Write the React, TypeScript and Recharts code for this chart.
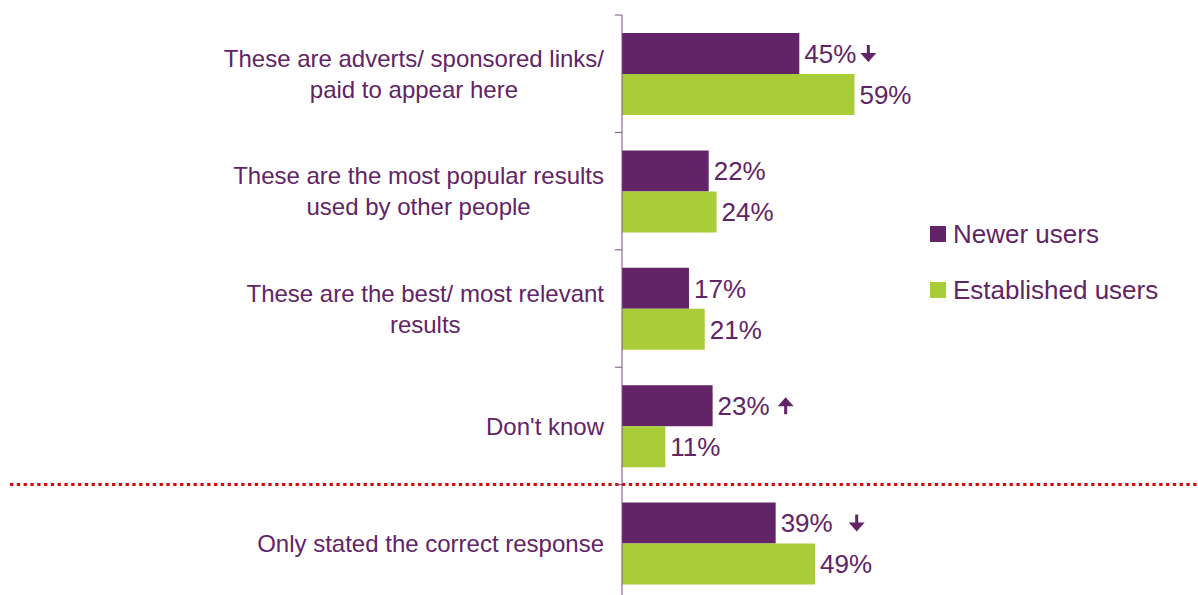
import React from "react";
import {
  BarChart,
  Bar,
  XAxis,
  YAxis,
  Legend,
  LabelList,
  ReferenceLine,
} from "recharts";

const categories = [
  "These are adverts/ sponsored links/ paid to appear here",
  "These are the most popular results used by other people",
  "These are the best/ most relevant results",
  "Don't know",
  "Only stated the correct response",
];
const newerUsers = [45, 22, 17, 23, 39];
const establishedUsers = [59, 24, 21, 11, 49];
// significance arrows shown next to the newer users' values
const newerArrows: Array<"up" | "down" | null> = ["down", null, null, "up", "down"];
const seriesNames = ["Newer users", "Established users"];

const PURPLE = "#622466";
const GREEN = "#a9cd38";
const TEXT = "#612466";
const AXIS = "#7d4b82";
const FONT = "'Liberation Sans', Arial, sans-serif";

const data = categories.map((category, i) => ({
  category,
  newer: newerUsers[i],
  established: establishedUsers[i],
}));

let ctx: CanvasRenderingContext2D | null = null;
function textWidth(t: string, size: number) {
  if (!ctx && typeof document !== "undefined") {
    ctx = document.createElement("canvas").getContext("2d");
  }
  if (!ctx) return t.length * size * 0.5;
  ctx.font = `${size}px 'Liberation Sans', Arial, sans-serif`;
  return ctx.measureText(t).width;
}

function wrap(text: string, size: number, maxWidth: number) {
  const words = text.split(" ");
  const lines: string[] = [];
  let cur = "";
  for (const w of words) {
    const next = cur ? cur + " " + w : w;
    if (cur && textWidth(next, size) > maxWidth) {
      lines.push(cur);
      cur = w;
    } else {
      cur = next;
    }
  }
  if (cur) lines.push(cur);
  return lines;
}

const CategoryTick = (props: any) => {
  const { y, payload } = props;
  const half = payload?.offset ?? 58.7;
  const size = 24;
  const lines = wrap(String(payload.value), size, 400);
  const maxW = Math.max(...lines.map((l) => textWidth(l, size)));
  const cx = 604 - maxW / 2;
  const lh = 31;
  const startY = y - ((lines.length - 1) * lh) / 2;
  return (
    <g>
      <line x1={615} x2={622} y1={y - half} y2={y - half} stroke={AXIS} strokeWidth={1} />
      <text textAnchor="middle" fontSize={size} fontFamily={FONT} fill={TEXT}>
        {lines.map((l, i) => (
          <tspan key={i} x={cx} y={startY + i * lh} dy="0.36em">
            {l}
          </tspan>
        ))}
      </text>
    </g>
  );
};

const Arrow = ({ x, cy, dir }: { x: number; cy: number; dir: "up" | "down" }) => {
  const h = 17;
  const top = cy - h / 2;
  const d =
    dir === "down"
      ? `M${x + 6.5},${top} h3 v8 h6.5 L${x + 8},${top + h} L${x},${top + 8} h6.5 Z`
      : `M${x + 6.5},${top + h} h3 v-8 h6.5 L${x + 8},${top} L${x},${top + 9} h6.5 Z`;
  return <path d={d} fill={PURPLE} />;
};

const makeValueLabel = (arrows?: Array<"up" | "down" | null>) => (props: any) => {
  const vb = props.viewBox ?? {};
  const x = Number(props.x ?? vb.x);
  const y = Number(props.y ?? vb.y);
  const width = Number(props.width ?? vb.width);
  const height = Number(props.height ?? vb.height);
  const { value, index } = props;
  const size = 26;
  const tx = x + width + 5;
  const cy = y + height / 2;
  const text = `${value}%`;
  const arrow = arrows ? arrows[index] : null;
  const gap = index === 4 ? 16 : index === 3 ? 8 : 4;
  return (
    <g>
      <text x={tx} y={cy} dy="0.36em" fontSize={size} fontFamily={FONT} fill={TEXT}>
        {text}
      </text>
      {arrow && <Arrow x={tx + textWidth(text, size) + gap} cy={cy} dir={arrow} />}
    </g>
  );
};

const renderLegend = () => (
  <div style={{ fontFamily: FONT, fontSize: 26, color: TEXT }}>
    {seriesNames.map((n, i) => (
      <div key={n} style={{ display: "flex", alignItems: "center", height: 56 }}>
        <span
          style={{
            display: "inline-block",
            width: 16,
            height: 16,
            background: i === 0 ? PURPLE : GREEN,
            marginRight: 7,
          }}
        />
        {n}
      </div>
    ))}
  </div>
);

export default function App() {
  return (
    <div style={{ position: "absolute", left: 0, top: 0, width: 1198, height: 595, overflow: "hidden", background: "#fff" }}>
      <BarChart
        width={1198}
        height={602}
        data={data}
        layout="vertical"
        margin={{ top: 15, right: 182, bottom: 0, left: 0 }}
        barGap={0}
        barSize={41}
      >
        <XAxis type="number" domain={[0, 100]} hide />
        <YAxis
          type="category"
          dataKey="category"
          width={622}
          axisLine={{ stroke: AXIS }}
          tickLine={false}
          interval={0}
          tick={(p: any) => <CategoryTick {...p} />}
        />
        <ReferenceLine
          y={categories[4]}
          position="start"
          ifOverflow="visible"
          shape={(p: any) => (
            <line
              x1={10}
              x2={1198}
              y1={p.y1}
              y2={p.y1}
              stroke="#d10a0a"
              strokeWidth={3}
              strokeDasharray="3.3 3.5"
            />
          )}
        />
        <Legend
          layout="vertical"
          align="center"
          verticalAlign="middle"
          content={renderLegend}
          wrapperStyle={{ left: 930, top: 206, width: 268 }}
        />
        <Bar dataKey="newer" name={seriesNames[0]} fill={PURPLE} isAnimationActive={false}>
          <LabelList dataKey="newer" content={makeValueLabel(newerArrows)} />
        </Bar>
        <Bar dataKey="established" name={seriesNames[1]} fill={GREEN} isAnimationActive={false}>
          <LabelList dataKey="established" content={makeValueLabel()} />
        </Bar>
      </BarChart>
    </div>
  );
}
